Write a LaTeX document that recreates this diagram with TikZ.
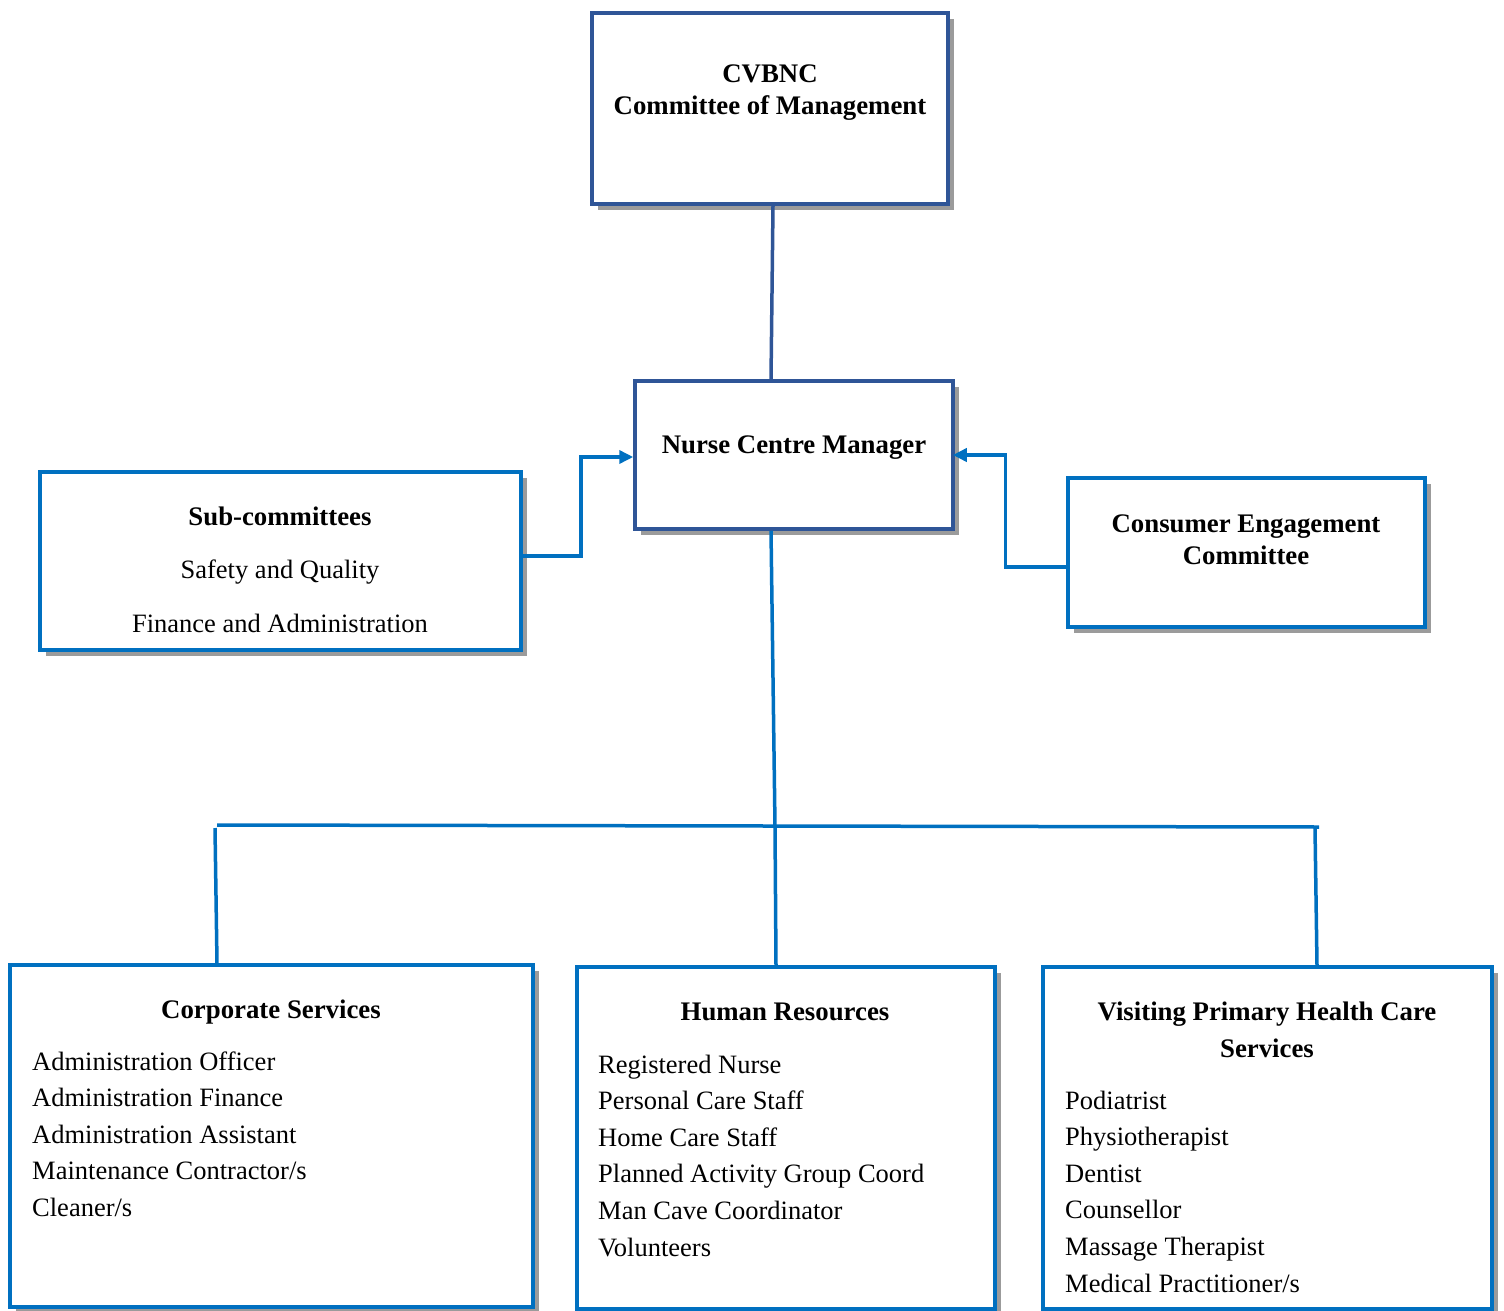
\documentclass[tikz,border=0pt]{standalone}
\usepackage{fontspec}
\setmainfont{Liberation Serif}
\usetikzlibrary{arrows.meta,shadows}
\definecolor{darkblue}{HTML}{2F5597}
\definecolor{midblue}{HTML}{0070C0}
\definecolor{shadowgray}{HTML}{9B9B9B}
\begin{document}
\begin{tikzpicture}[x=1pt,y=-1pt,
  box/.style={draw=midblue, line width=3.5pt, fill=white, inner sep=0pt,
    drop shadow={shadow xshift=6pt, shadow yshift=-6pt, fill=shadowgray, opacity=1}},
  dbox/.style={box, draw=darkblue},
  ttl/.style={font=\fontsize{26.8}{32}\selectfont\bfseries, align=center, inner sep=0pt},
  txt/.style={font=\fontsize{26.5}{32}\selectfont, inner sep=0pt},
  itm/.style={font=\fontsize{26.5}{32}\selectfont, anchor=base west, inner sep=0pt},
  conn/.style={midblue, line width=3.5pt},
  arr/.style={conn, -{Triangle[length=14pt,width=13pt]}}]
\useasboundingbox (0,0) rectangle (1504,1311);

% boxes
\node[dbox, minimum width=356pt, minimum height=191pt] (top) at (770,108.5) {};
\node[dbox, minimum width=318pt, minimum height=148pt] (ncm) at (794,455) {};
\node[box, minimum width=481pt, minimum height=178pt] (sub) at (280.5,561) {};
\node[box, minimum width=357pt, minimum height=149pt] (cec) at (1246.5,552.5) {};
\node[box, minimum width=523pt, minimum height=342pt] (cs) at (271.5,1136) {};
\node[box, minimum width=418pt, minimum height=342pt] (hr) at (786,1138) {};
\node[box, minimum width=449pt, minimum height=342pt] (vp) at (1267.5,1138) {};

% texts
\node[ttl] (toptxt) at (770,92.5) {CVBNC\\Committee of Management};
\node[ttl] (ncmtxt) at (794,448) {Nurse Centre Manager};
\node[ttl] (subttl) at (280,516.5) {Sub-committees};
\node[txt] (sub1) at (280,572) {Safety and Quality};
\node[txt] (sub2) at (280,623) {Finance and Administration};
\node[ttl] (cectxt) at (1246,540) {Consumer Engagement\\Committee};
\node[ttl] (csttl) at (271,1012.5) {Corporate Services};
\node[ttl] (hrttl) at (785,1011.5) {Human Resources};
\node[ttl] (vpttl) at (1267,1030) {Visiting Primary Health Care\\[4.5pt]Services};

\foreach \t [count=\i from 0] in {Administration Officer, Administration Finance, Administration Assistant, Maintenance Contractor/s, Cleaner/s}
  \node[itm] (cs\i) at (32,1070+36.6*\i) {\t};
\foreach \t [count=\i from 0] in {Registered Nurse, Personal Care Staff, Home Care Staff, Planned Activity Group Coord, Man Cave Coordinator, Volunteers}
  \node[itm] (hr\i) at (598,1073+36.6*\i) {\t};
\foreach \t [count=\i from 0] in {Podiatrist, Physiotherapist, Dentist, Counsellor, Massage Therapist, Medical Practitioner/s}
  \node[itm] (vp\i) at (1065,1109+36.6*\i) {\t};

% connectors
\coordinate (jl) at (217,825);
\coordinate (jr) at (1319,827);
\coordinate (jm) at (775,826);
\draw[darkblue, line width=3.5pt] ([xshift=3pt]top.south) -- ([xshift=-23pt]ncm.north);
\draw[conn] ([xshift=-23pt]ncm.south) -- (jm) -- ([xshift=-10pt]hr.north);
\draw[conn] (jl) -- (jr);
\draw[conn] ([xshift=-2pt,yshift=-3pt]jl) -- ([xshift=-54.5pt]cs.north);
\draw[conn] ([xshift=-4pt,yshift=-1pt]jr) -- ([xshift=49.5pt]vp.north);
\draw[arr] ([yshift=5pt]sub.east) -- ++(58,0) |- ([yshift=-2pt]ncm.west);
\draw[arr] ([yshift=-14.5pt]cec.west) -- ++(-61,0) |- ([xshift=-2pt]ncm.east);
\end{tikzpicture}
\end{document}
